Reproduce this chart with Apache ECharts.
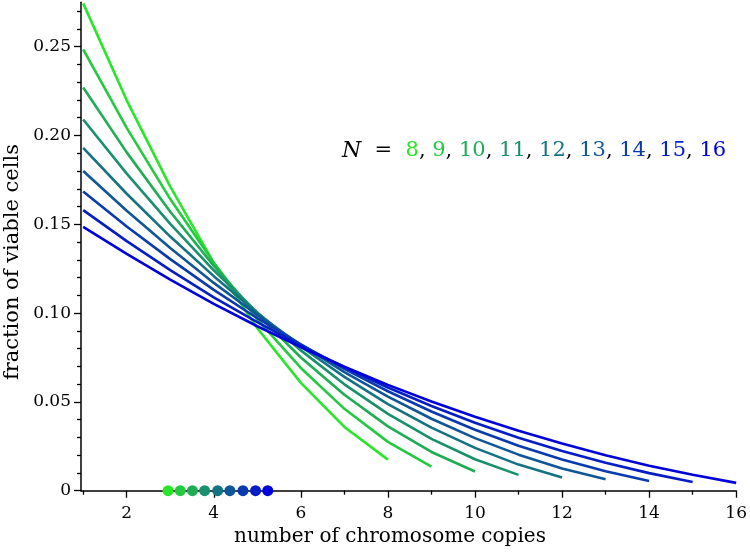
<!DOCTYPE html>
<html>
<head>
<meta charset="utf-8">
<script src="https://cdn.jsdelivr.net/npm/echarts@6.0.0/dist/echarts.min.js"></script>
<style>
  html, body { margin: 0; padding: 0; background: #fff; }
  #chart { width: 750px; height: 552px; }
</style>
</head>
<body>
<div id="chart"></div>
<script>
// ---- data ----
const copies = [1, 2, 3, 4, 5, 6, 7, 8, 9, 10, 11, 12, 13, 14, 15, 16];
const Nvalues = [8, 9, 10, 11, 12, 13, 14, 15, 16];

const frac8  = [0.2744, 0.2198, 0.1712, 0.1283, 0.0915, 0.0607, 0.0359, 0.0175];
const frac9  = [0.2485, 0.2043, 0.1642, 0.1283, 0.0965, 0.0691, 0.0461, 0.0275, 0.0135];
const frac10 = [0.2270, 0.1905, 0.1571, 0.1266, 0.0993, 0.0750, 0.0540, 0.0362, 0.0218, 0.0108];
const frac11 = [0.2090, 0.1785, 0.1502, 0.1241, 0.1004, 0.0790, 0.0599, 0.0433, 0.0292, 0.0177, 0.0089];
const frac12 = [0.1930, 0.1672, 0.1431, 0.1208, 0.1001, 0.0812, 0.0641, 0.0488, 0.0355, 0.0241, 0.0147, 0.0074];
const frac13 = [0.1800, 0.1576, 0.1366, 0.1170, 0.0989, 0.0822, 0.0668, 0.0530, 0.0405, 0.0296, 0.0203, 0.0125, 0.0064];
const frac14 = [0.1685, 0.1488, 0.1304, 0.1131, 0.0971, 0.0824, 0.0686, 0.0560, 0.0446, 0.0343, 0.0253, 0.0176, 0.0110, 0.0055];
const frac15 = [0.1580, 0.1405, 0.1242, 0.1089, 0.0949, 0.0817, 0.0695, 0.0581, 0.0477, 0.0383, 0.0298, 0.0223, 0.0157, 0.0099, 0.0049];
const frac16 = [0.1486, 0.1334, 0.1188, 0.1052, 0.0926, 0.0808, 0.0698, 0.0596, 0.0502, 0.0416, 0.0338, 0.0266, 0.0200, 0.0141, 0.0090, 0.0044];

// mean copy number markers on the x axis
const meanCopies = [2.95, 3.23, 3.51, 3.79, 4.09, 4.37, 4.67, 4.96, 5.24];

// tick labels
const xMajorTicks = [2, 4, 6, 8, 10, 12, 14, 16];
const xMinorTicks = [1, 3, 5, 7, 9, 11, 13, 15];
const yMajorTicks = [0, 0.05, 0.10, 0.15, 0.20, 0.25];
const yMinorTicks = [0.01, 0.02, 0.03, 0.04, 0.06, 0.07, 0.08, 0.09, 0.11, 0.12, 0.13, 0.14,
                     0.16, 0.17, 0.18, 0.19, 0.21, 0.22, 0.23, 0.24, 0.26, 0.27];

// ---- styles ----
const palette = ['#28e628', '#23c93f', '#1eac55', '#19906c', '#147382', '#0f5699', '#0a3aaf', '#051dc6', '#0000dc'];
const allFracs = [frac8, frac9, frac10, frac11, frac12, frac13, frac14, frac15, frac16];
const FONT = '"DejaVu Serif", serif';

const lineSeries = allFracs.map((arr, i) => ({
  type: 'line',
  name: 'N=' + Nvalues[i],
  data: arr.map((v, j) => [copies[j], v]),
  symbol: 'none',
  lineStyle: { color: palette[i], width: 2.6 },
  itemStyle: { color: palette[i] },
  z: 3 + i
}));

const dotSeries = {
  type: 'scatter',
  data: meanCopies.map((m, i) => ({ value: [m, 0], itemStyle: { color: palette[i], opacity: 1 } })),
  symbol: 'circle',
  symbolSize: 11,
  clip: false,
  itemStyle: { opacity: 1 },
  z: 20
};

const tickStyle = { color: '#000', width: 1.3 };

let richText = '{n|N}{eq|  =  }';
const rich = {
  n: { fontFamily: FONT, fontSize: 22, fontStyle: 'italic', fill: '#000', color: '#000' },
  eq: { fontFamily: FONT, fontSize: 21, fill: '#000', color: '#000' },
  cm: { fontFamily: FONT, fontSize: 21, fill: '#000', color: '#000' }
};
Nvalues.forEach((n, i) => {
  rich['c' + i] = { fontFamily: FONT, fontSize: 21, fill: palette[i], color: palette[i] };
  richText += '{c' + i + '|' + n + '}' + (i < Nvalues.length - 1 ? '{cm|, }' : '');
});

const option = {
  animation: false,
  backgroundColor: '#fff',
  grid: { left: 81, top: 2.3, width: 656, height: 488.4 },
  xAxis: [
    {
      type: 'value', min: 0.95, max: 16, position: 'bottom',
      axisLine: { onZero: false, lineStyle: { color: '#000', width: 1.5 } },
      axisTick: { customValues: xMajorTicks, length: 7, lineStyle: tickStyle },
      axisLabel: { customValues: xMajorTicks, margin: 14, fontFamily: FONT, fontSize: 17, color: '#000' },
      splitLine: { show: false }
    },
    {
      type: 'value', min: 0.95, max: 16, position: 'bottom',
      axisLine: { show: false, onZero: false },
      axisTick: { customValues: xMinorTicks, length: 4, lineStyle: tickStyle },
      axisLabel: { show: false },
      splitLine: { show: false }
    }
  ],
  yAxis: [
    {
      type: 'value', min: 0, max: 0.275, position: 'left',
      axisLine: { show: true, onZero: false, lineStyle: { color: '#000', width: 1.5 } },
      axisTick: { show: true, customValues: yMajorTicks, length: 7, lineStyle: tickStyle },
      axisLabel: {
        customValues: yMajorTicks, margin: 10, fontFamily: FONT, fontSize: 17, color: '#000',
        formatter: v => (v === 0 ? '0' : v.toFixed(2))
      },
      splitLine: { show: false }
    },
    {
      type: 'value', min: 0, max: 0.275, position: 'left',
      axisLine: { show: false, onZero: false },
      axisTick: { show: true, customValues: yMinorTicks, length: 4, lineStyle: tickStyle },
      axisLabel: { show: false },
      splitLine: { show: false }
    }
  ],
  series: lineSeries.concat([dotSeries]),
  graphic: [
    {
      type: 'text', x: 390, y: 537,
      style: { text: 'number of chromosome copies', font: '20px ' + FONT, fill: '#000',
               textAlign: 'center', textVerticalAlign: 'middle' }
    },
    {
      type: 'text', x: 13, y: 262, rotation: Math.PI / 2,
      style: { text: 'fraction of viable cells', font: '21px ' + FONT, fill: '#000',
               textAlign: 'center', textVerticalAlign: 'middle' }
    },
    {
      type: 'text', x: 342, y: 151,
      style: { text: richText, rich: rich, font: '21px ' + FONT, fill: '#000',
               textAlign: 'left', textVerticalAlign: 'middle' }
    }
  ]
};

const chart = echarts.init(document.getElementById('chart'), null, { renderer: 'canvas' });
chart.setOption(option);
</script>
</body>
</html>
